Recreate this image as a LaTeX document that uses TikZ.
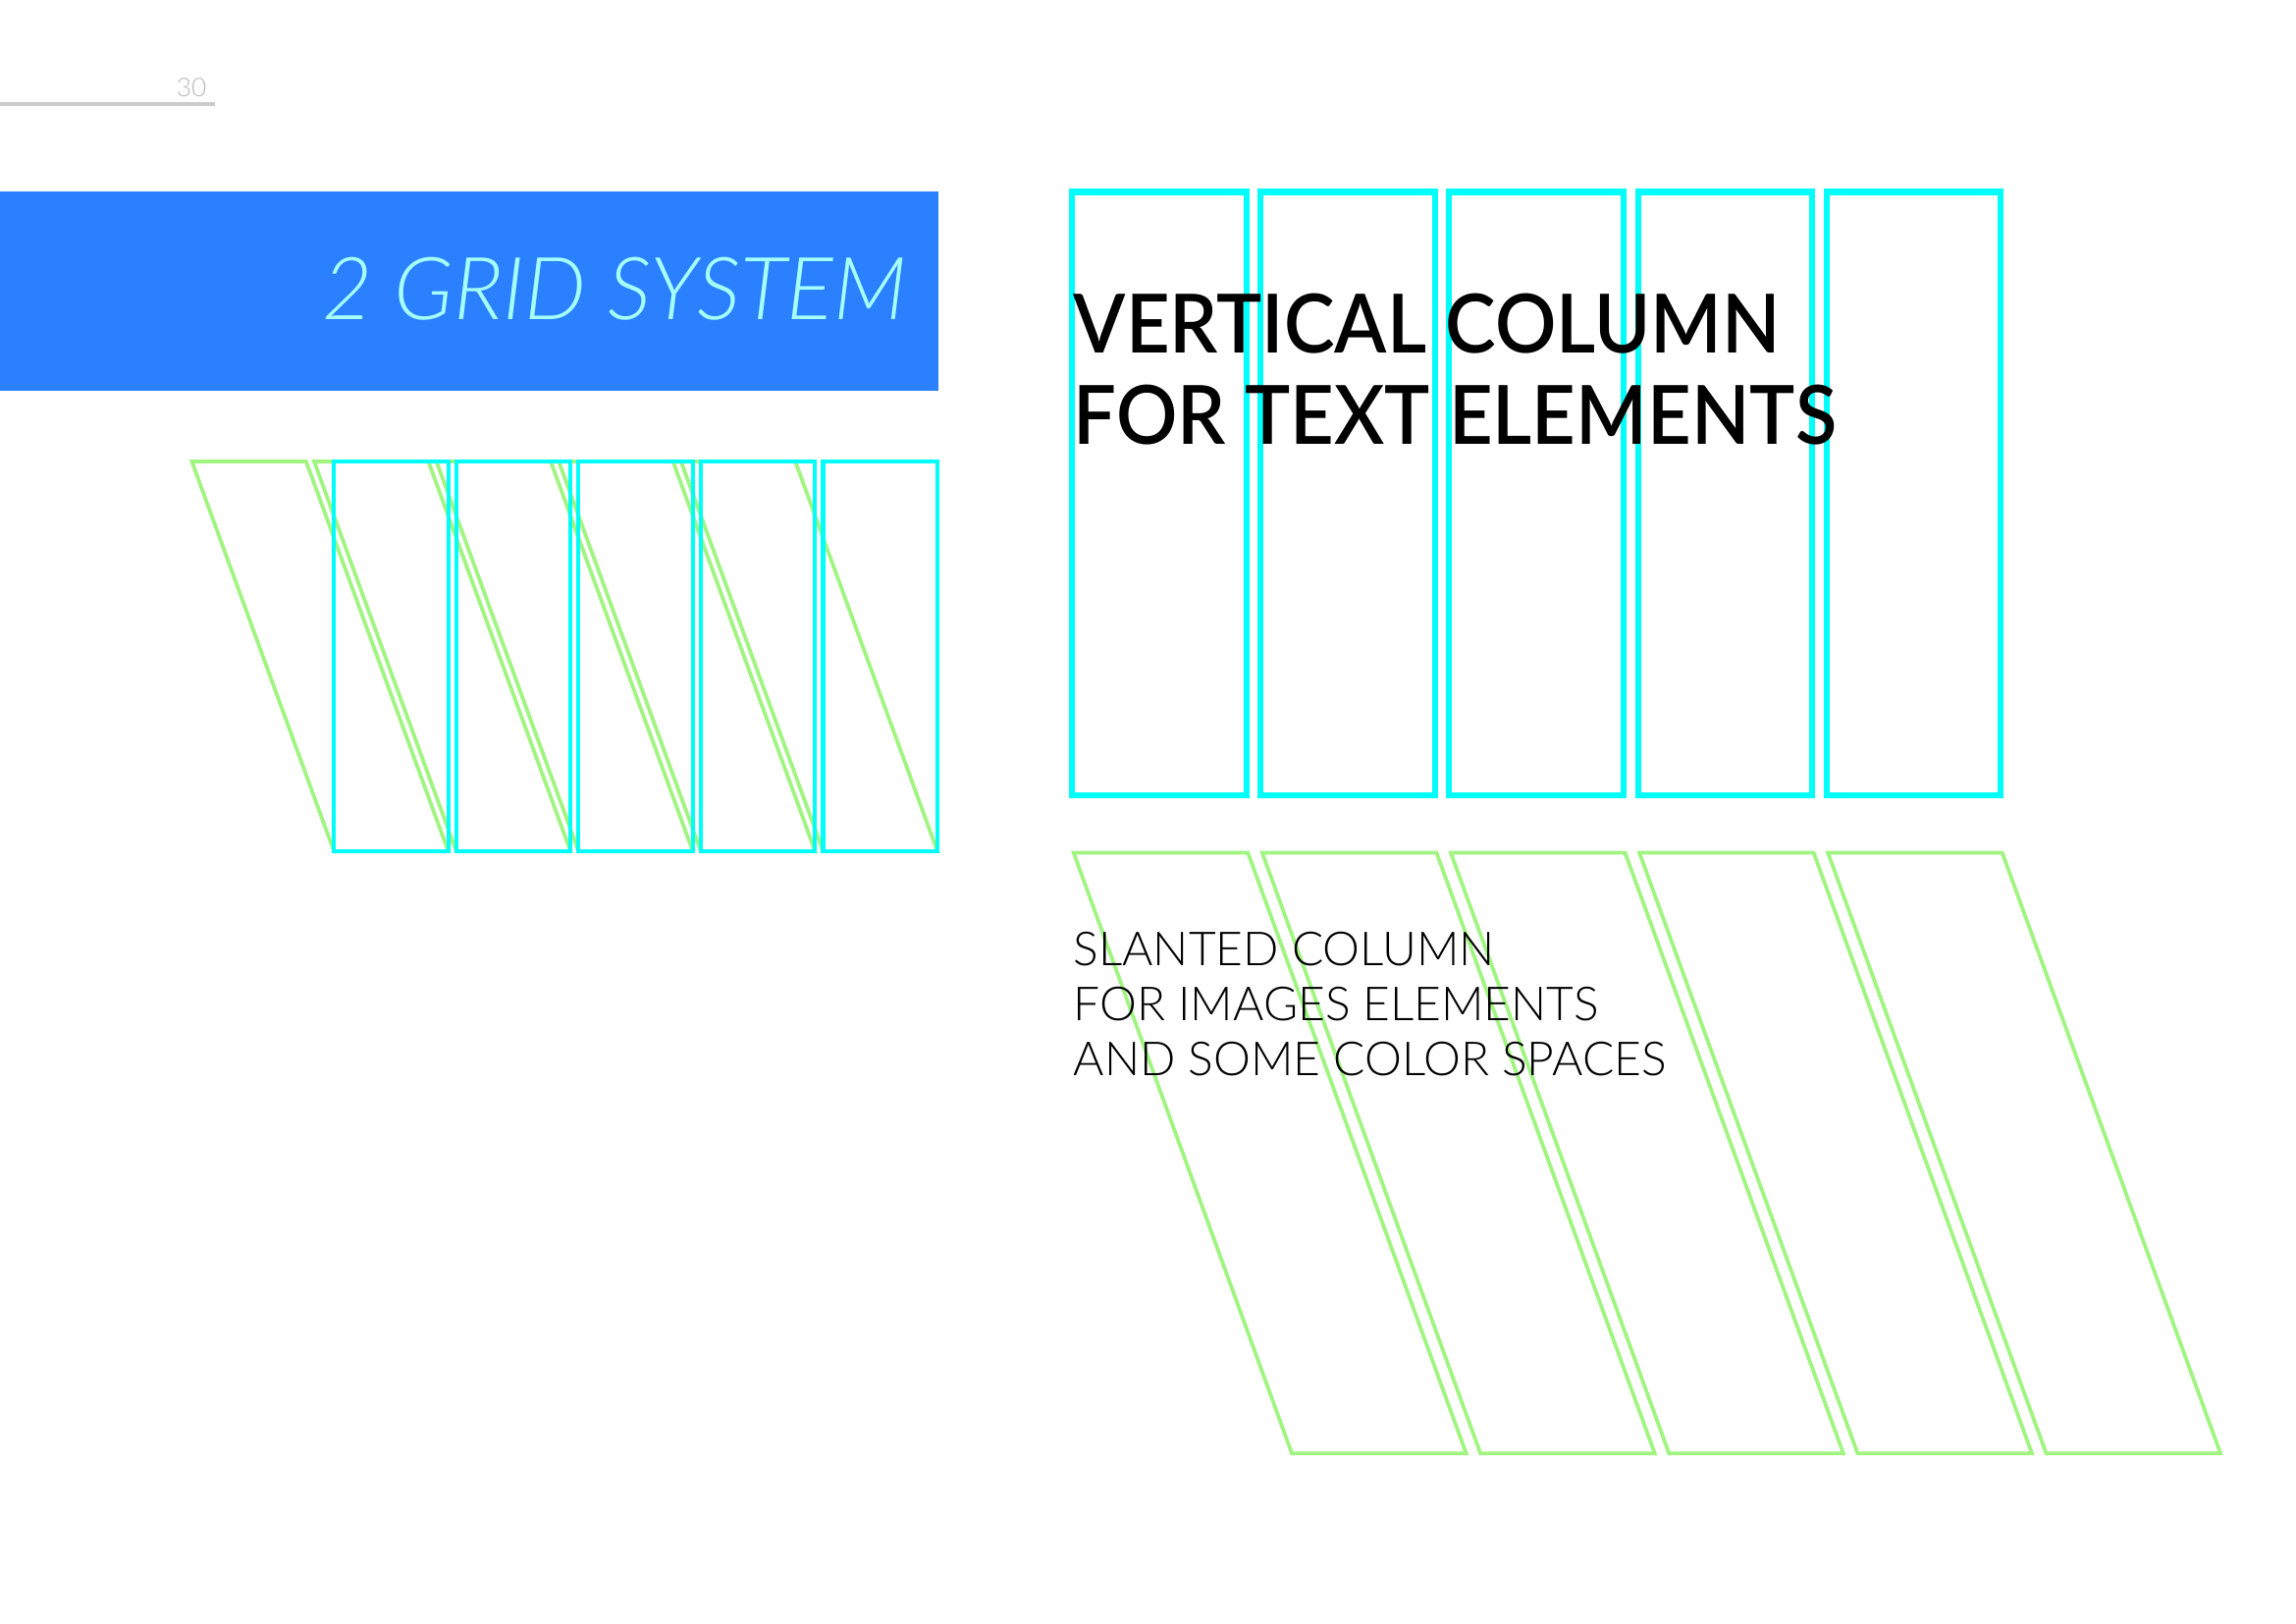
\documentclass[tikz,border=0pt]{standalone}
\usepackage{fontspec}
\setmainfont{Lato}
\newfontfamily\latolight{Lato Light}
\newfontfamily\latosemi{Lato Semibold}[FakeStretch=0.935]
\definecolor{gridblue}{RGB}{42,128,255}
\definecolor{titlecyan}{RGB}{165,255,250}
\definecolor{colcyan}{RGB}{0,255,250}
\definecolor{colgreen}{RGB}{160,245,128}
\definecolor{rulegray}{RGB}{204,204,204}
\definecolor{numgray}{RGB}{185,185,185}
\tikzset{
  cyanthin/.style={draw=colcyan, line width=1.5pt},
  cyanthick/.style={draw=colcyan, line width=2.2pt},
  greenline/.style={draw=colgreen, line width=1.35pt, line join=miter},
  txt/.style={inner sep=0pt, outer sep=0pt},
}
\begin{document}
\begin{tikzpicture}[x=0.18946mm,y=-0.18946mm]
\useasboundingbox (0,0) rectangle (1567.6,1108.4);
% page number and rule
\draw[rulegray, line width=1.4pt] (0,71.1) -- (146.7,71.1);
\node[txt, anchor=base east, text=numgray, font=\latolight\fontsize{9.5}{11}\selectfont] (pagenum) at (141,66.2) {30};
% title band
\fill[gridblue] (0,131) rectangle (641,267);
\node[txt, anchor=base east, text=titlecyan, font=\latolight\itshape\fontsize{32}{38}\selectfont] (title) at (619,218) {2 GRID SYSTEM};
% left slanted group
\foreach \k in {0,...,4}{
  \pgfmathsetmacro{\xa}{131+83.5*\k}
  \draw[greenline] (\xa,315) -- ({\xa+78},315) -- ({\xa+175},581) -- ({\xa+97},581) -- cycle;
}
\foreach \k in {0,...,4}{
  \pgfmathsetmacro{\xb}{228+83.5*\k}
  \draw[cyanthin] (\xb,315) rectangle ({\xb+78},581);
}
% right vertical columns
\foreach \k in {0,...,4}{
  \pgfmathsetmacro{\xc}{732+128.75*\k}
  \draw[cyanthick] (\xc,131) rectangle ({\xc+119},543);
}
% right slanted columns
\foreach \k in {0,...,4}{
  \pgfmathsetmacro{\xd}{733+128.75*\k}
  \draw[greenline] (\xd,582) -- ({\xd+119},582) -- ({\xd+268},992) -- ({\xd+149},992) -- cycle;
}
% texts
\node[txt, anchor=base west, font=\latosemi\fontsize{30}{34}\selectfont] (vc1) at (733,241) {VERTICAL COLUMN};
\node[txt, anchor=base west, font=\latosemi\fontsize{30}{34}\selectfont] (vc2) at (733,303) {FOR TEXT ELEMENTS};
\node[txt, anchor=base west, font=\latolight\fontsize{17.3}{20}\selectfont] (sc1) at (733,659) {SLANTED COLUMN};
\node[txt, anchor=base west, font=\latolight\fontsize{17.3}{20}\selectfont] (sc2) at (733,697) {FOR IMAGES ELEMENTS};
\node[txt, anchor=base west, font=\latolight\fontsize{17.3}{20}\selectfont] (sc3) at (733,734) {AND SOME COLOR SPACES};
\end{tikzpicture}
\end{document}
